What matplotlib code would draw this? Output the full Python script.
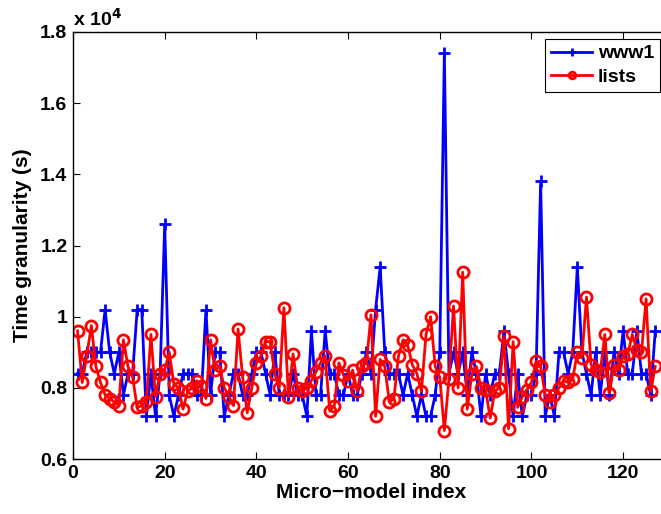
import matplotlib
matplotlib.use('Agg')
import matplotlib.pyplot as plt
from matplotlib.ticker import FuncFormatter

# valores em unidades de 1e4 (escala do eixo y)
www1 = [0.84, 0.84, 0.90, 0.90, 0.90, 0.90, 1.02, 0.90, 0.84, 0.90,
        0.78, 0.84, 0.84, 1.02, 1.02, 0.72, 0.84, 0.72, 0.84, 1.26,
        0.78, 0.72, 0.78, 0.84, 0.84, 0.84, 0.78, 0.78, 1.02, 0.78,
        0.90, 0.90, 0.72, 0.78, 0.84, 0.84, 0.78, 0.78, 0.84, 0.90,
        0.90, 0.84, 0.78, 0.90, 0.78, 0.78, 0.78, 0.84, 0.78, 0.78,
        0.72, 0.96, 0.78, 0.78, 0.96, 0.84, 0.84, 0.78, 0.78, 0.84,
        0.78, 0.78, 0.84, 0.90, 0.84, 1.02, 1.14, 0.90, 0.84, 0.84,
        0.84, 0.78, 0.84, 0.78, 0.72, 0.78, 0.72, 0.72, 0.78, 0.90,
        1.74, 0.84, 0.90, 0.84, 0.90, 0.78, 0.90, 0.84, 0.72, 0.84,
        0.78, 0.84, 0.84, 0.96, 0.84, 0.72, 0.84, 0.72, 0.78, 0.78,
        0.84, 1.38, 0.72, 0.78, 0.72, 0.90, 0.90, 0.84, 0.90, 1.14,
        0.90, 0.84, 0.78, 0.90, 0.78, 0.90, 0.78, 0.90, 0.84, 0.96,
        0.84, 0.84, 0.96, 0.84, 0.84, 0.78, 0.96]

lists = [0.96, 0.815, 0.89, 0.975, 0.86, 0.815, 0.78, 0.77, 0.76, 0.75,
         0.935, 0.86, 0.83, 0.745, 0.75, 0.76, 0.95, 0.775, 0.84, 0.85,
         0.90, 0.81, 0.80, 0.74, 0.79, 0.80, 0.82, 0.805, 0.77, 0.935,
         0.85, 0.86, 0.80, 0.775, 0.75, 0.965, 0.83, 0.73, 0.80, 0.87,
         0.89, 0.93, 0.93, 0.84, 0.80, 1.025, 0.775, 0.895, 0.80, 0.79,
         0.80, 0.82, 0.845, 0.87, 0.89, 0.735, 0.75, 0.87, 0.835, 0.82,
         0.85, 0.79, 0.86, 0.87, 1.005, 0.72, 0.88, 0.86, 0.76, 0.77,
         0.89, 0.935, 0.92, 0.865, 0.84, 0.79, 0.95, 1.0, 0.86, 0.83,
         0.68, 0.825, 1.03, 0.80, 1.125, 0.74, 0.84, 0.86, 0.80, 0.795,
         0.715, 0.79, 0.80, 0.945, 0.685, 0.93, 0.745, 0.775, 0.795, 0.815,
         0.875, 0.86, 0.78, 0.76, 0.78, 0.80, 0.82, 0.815, 0.825, 0.90,
         0.885, 1.055, 0.865, 0.85, 0.845, 0.95, 0.785, 0.865, 0.85, 0.89,
         0.895, 0.95, 0.905, 0.90, 1.05, 0.79, 0.86]

indices = list(range(1, len(www1) + 1))

plt.rcParams['font.family'] = ['Liberation Sans', 'DejaVu Sans']
plt.rcParams['font.weight'] = 'bold'

fig = plt.figure(figsize=(6.61, 5.14), dpi=100)
# eixo vai um pouco alem da borda direita (figura original cortada)
ax = fig.add_axes([73 / 661, 55 / 514, 596 / 661, 427 / 514])

ax.plot(indices, [v * 1e4 for v in www1], color='blue', marker='+',
        markersize=9, markeredgewidth=2, linewidth=2, label='www1')
ax.plot(indices, [v * 1e4 for v in lists], color='red', marker='o',
        markersize=8, markerfacecolor='none', markeredgewidth=2,
        linewidth=2, label='lists')

ax.set_xlim(0, 130)
ax.set_ylim(6000, 18000)
ax.set_xticks([0, 20, 40, 60, 80, 100, 120])
ax.set_yticks([6000, 8000, 10000, 12000, 14000, 16000, 18000])
ax.yaxis.set_major_formatter(FuncFormatter(lambda v, p: '%g' % (v / 1e4)))
ax.tick_params(direction='in', top=True, right=True, labelsize=14,
               length=5, width=0.8, colors='black', pad=4)
for s in ax.spines.values():
    s.set_linewidth(1)

ax.text(0.0, 1.005, r'x 10$^4$', transform=ax.transAxes, fontsize=14,
        fontweight='bold', ha='left', va='bottom')

ax.set_xlabel('Micro\u2212model index', fontsize=15, fontweight='bold', labelpad=1)
ax.set_ylabel('Time granularity (s)', fontsize=15, fontweight='bold', labelpad=6)

leg = ax.legend(loc='upper right', bbox_to_anchor=(660 / 661, 1 - 39 / 514),
                bbox_transform=fig.transFigure, borderaxespad=0,
                fontsize=14, fancybox=False, edgecolor='black', framealpha=1,
                handlelength=2.1, handletextpad=0.3, labelspacing=0.3,
                borderpad=0.3, markerscale=0.6)
leg.get_frame().set_linewidth(0.8)

fig.savefig('out.png', dpi=100)
